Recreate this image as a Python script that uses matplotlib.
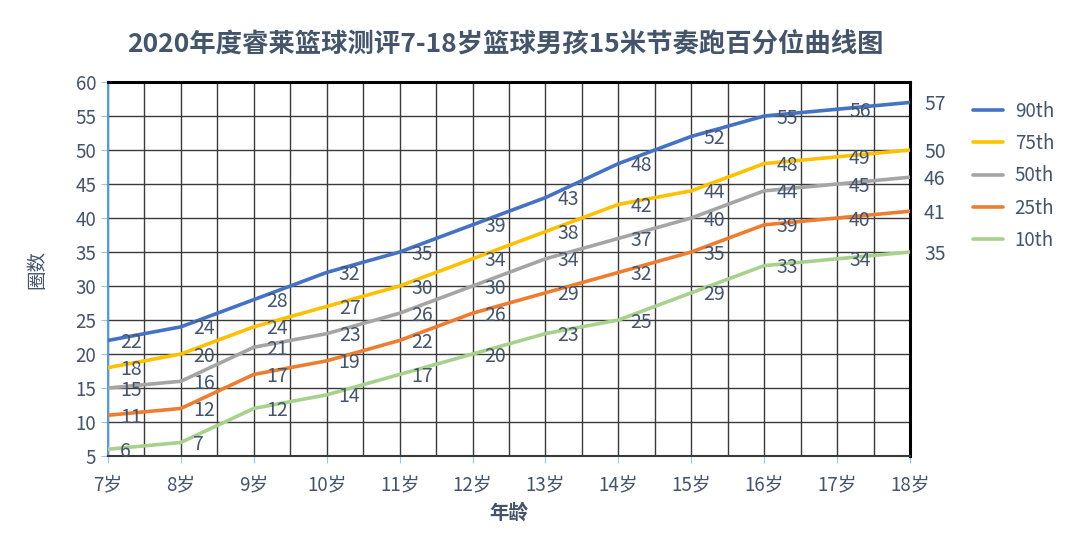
import numpy as np
import matplotlib
matplotlib.use('Agg')
import matplotlib.pyplot as plt
from matplotlib.ticker import MultipleLocator

plt.rcParams['font.family'] = ['Noto Sans CJK SC', 'DejaVu Sans']

# data
ages = [7, 8, 9, 10, 11, 12, 13, 14, 15, 16, 17, 18]
age_labels = [f'{a}岁' for a in ages]
p90 = [22, 24, 28, 32, 35, 39, 43, 48, 52, 55, 56, 57]
p75 = [18, 20, 24, 27, 30, 34, 38, 42, 44, 48, 49, 50]
p50 = [15, 16, 21, 23, 26, 30, 34, 37, 40, 44, 45, 46]
p25 = [11, 12, 17, 19, 22, 26, 29, 32, 35, 39, 40, 41]
p10 = [6, 7, 12, 14, 17, 20, 23, 25, 29, 33, 34, 35]

series = [('90th', p90, '#4472C4'),
          ('75th', p75, '#FFC000'),
          ('50th', p50, '#A5A5A5'),
          ('25th', p25, '#ED7D31'),
          ('10th', p10, '#A9D18E')]

txt = '#44546A'

fig = plt.figure(figsize=(10.8, 5.34), dpi=100)
ax = fig.add_axes([0.1, 0.146, 0.7426, 0.7004])

for name, vals, col in series:
    ax.plot(ages, vals, color=col, lw=2.6, label=name, solid_capstyle='round',
            solid_joinstyle='round', zorder=3)
    for i, (a, v) in enumerate(zip(ages, vals)):
        dx = 12 if i < len(ages) - 1 else 14
        ax.annotate(str(v), (a, v), xytext=(dx, -2), textcoords='offset pixels',
                    ha='left', va='center', fontsize=14, color=txt,
                    annotation_clip=False, zorder=4)

ax.set_xlim(7, 18)
ax.set_ylim(5, 60)
ax.set_xticks(ages)
ax.set_xticklabels(age_labels)
ax.xaxis.set_minor_locator(MultipleLocator(0.5))
ax.yaxis.set_major_locator(MultipleLocator(5))
ax.grid(which='both', axis='x', color='#3a3a3a', lw=1.0, zorder=1)
ax.grid(which='major', axis='y', color='#3a3a3a', lw=1.0, zorder=1)
ax.tick_params(axis='both', which='major', labelsize=13.5, labelcolor=txt,
               color='#9DC3E6', length=5)
ax.tick_params(axis='x', which='minor', length=0)
ax.tick_params(axis='x', pad=8)

for s in ['top', 'right']:
    ax.spines[s].set_color('black')
    ax.spines[s].set_linewidth(2.2)
ax.spines['bottom'].set_color('#3a3a3a')
ax.spines['bottom'].set_linewidth(1.5)
ax.spines['left'].set_color('#5B9BD5')
ax.spines['left'].set_linewidth(1.5)

ax.set_xlabel('年龄', fontsize=14, color=txt, fontweight='bold', labelpad=6)
ax.set_ylabel('圈数', fontsize=14, color=txt, labelpad=20)

fig.suptitle('2020年度睿莱篮球测评7-18岁篮球男孩15米节奏跑百分位曲线图',
             fontsize=19, fontweight='bold', color=txt, y=0.94, x=0.468)

leg = ax.legend(loc='upper left', bbox_to_anchor=(1.058, 0.995), frameon=False,
                fontsize=13.5, handlelength=1.6, labelspacing=0.6,
                handletextpad=0.6)
for t in leg.get_texts():
    t.set_color(txt)

fig.savefig('out.png', dpi=100)
